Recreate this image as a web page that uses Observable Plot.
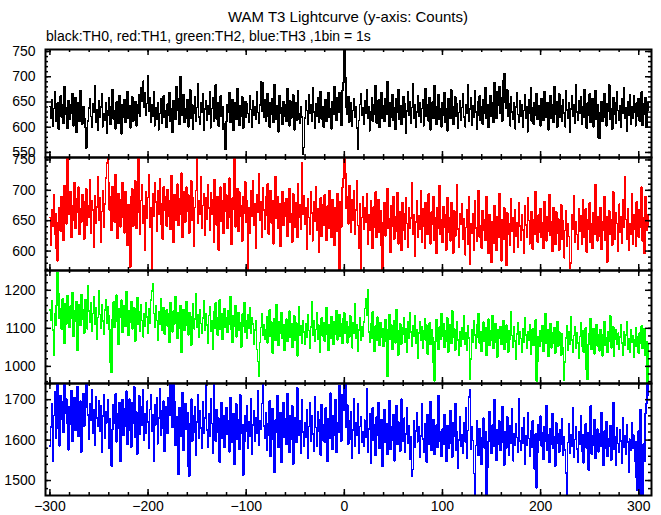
<!DOCTYPE html>
<html>
<head>
<meta charset="utf-8">
<script src="https://cdn.jsdelivr.net/npm/d3@7"></script>
<script src="https://cdn.jsdelivr.net/npm/@observablehq/plot@0.6"></script>
<style>
  body { margin: 0; background: #fff; }
  #wrap { position: relative; width: 661px; height: 515px; font-family: "Liberation Sans", Arial, sans-serif; color: #000; overflow: hidden; }
  #title { position: absolute; left: 0; width: 696px; top: 9px; text-align: center; font-size: 15px; line-height: 15px; white-space: nowrap; }
  #subtitle { position: absolute; left: 46px; top: 29px; font-size: 14px; line-height: 14px; white-space: nowrap; }
  .panel { position: absolute; left: 0; }
  .panel svg { overflow: visible; }
</style>
</head>
<body>
<div id="wrap">
  <div id="title">WAM T3 Lightcurve (y-axis: Counts)</div>
  <div id="subtitle">black:TH0, red:TH1, green:TH2, blue:TH3 ,1bin = 1s</div>
</div>
<script>
// ---- data: counts per 1 s bin, t = -300 ... 310 s ----
const th0 = [
641,618,655,602,637,670,629,611,648,596,633,662,620,645,607,681,626,639,598,652,
615,644,628,667,603,636,659,590,624,649,612,673,631,606,641,618,600,558,565,612,
638,657,621,600,646,629,683,610,635,594,652,619,640,667,601,627,613,648,589,632,
659,622,605,641,675,616,633,597,650,624,608,663,630,587,645,620,654,609,636,671,
618,642,599,629,660,612,637,651,603,626,644,665,621,679,652,691,640,668,623,647,
702,631,658,610,645,622,671,603,638,616,649,595,627,656,608,640,662,619,633,600,
646,624,669,611,637,590,652,628,615,680,634,657,606,700,641,623,665,609,637,618,
655,601,632,674,617,644,596,628,661,612,639,687,620,605,648,630,666,594,636,652,
614,643,625,670,599,637,658,611,629,684,616,648,602,635,662,621,640,596,607,556,
612,645,630,668,609,637,655,594,623,649,616,676,633,604,642,621,660,598,635,651,
619,646,627,610,663,635,600,652,624,641,615,671,629,607,644,690,632,688,620,654,
612,638,667,621,600,649,626,657,609,685,634,616,643,591,662,627,639,605,650,622,
644,611,676,629,603,652,618,637,664,595,630,648,614,673,626,607,641,620,546,560,
618,652,633,605,664,627,644,612,679,630,598,646,621,658,609,637,671,616,640,600,
629,655,612,643,668,620,636,597,651,625,681,640,614,659,630,668,645,604,672,688,
762,698,640,625,661,610,637,649,602,633,657,619,641,598,556,613,645,666,624,639,
606,652,628,674,617,640,593,631,659,612,645,626,683,608,636,654,600,629,668,618,
642,611,657,625,690,634,602,648,620,665,613,638,596,656,629,675,615,643,605,633,
661,619,646,588,632,670,624,651,607,639,686,617,645,600,630,663,622,648,610,637,
655,603,628,677,621,644,612,659,595,634,650,618,682,627,606,641,664,615,637,601,
648,624,669,610,636,593,657,630,617,674,641,605,633,660,622,646,598,629,653,614,
639,667,620,601,645,627,684,611,636,658,604,642,619,672,630,596,650,624,662,613,
641,606,655,628,678,617,645,600,632,663,622,649,610,689,635,618,670,644,681,627,
658,612,693,706,650,637,674,621,646,603,661,630,616,648,597,640,668,625,609,652,
621,645,600,633,664,618,640,591,655,627,678,612,638,606,649,624,667,615,642,630,
603,657,629,614,671,638,620,648,595,634,662,617,644,609,680,626,651,600,637,666,
619,643,611,655,628,601,672,634,617,649,590,636,663,621,645,608,684,630,614,652,
627,660,605,641,619,675,632,598,648,623,666,610,639,657,601,634,673,616,644,580,
578,629,651,612,640,667,620,603,646,631,684,615,637,596,659,625,648,608,670,633,
614,642,600,656,627,679,618,639,593,650,624,665,606,641,617,662,630,603,648,621,
657,612,638,670,604,646,625,659,600,634,648
];
const th1 = [
655,610,668,641,692,628,662,603,584,647,672,633,690,655,618,708,676,645,755,681,
660,697,623,674,650,712,638,686,664,705,627,670,648,693,659,620,681,702,642,675,
655,718,630,682,668,606,691,646,673,723,651,688,614,665,700,639,677,720,745,760,
712,668,690,634,706,681,648,726,659,621,694,672,640,685,712,655,630,698,667,610,
676,650,574,689,702,641,668,715,637,692,758,664,628,683,709,646,675,601,697,654,
688,725,640,672,567,694,658,713,681,632,699,660,719,645,677,620,706,668,690,641,
701,657,682,636,724,669,615,693,650,678,710,642,686,660,728,623,674,697,648,705,
665,692,630,679,716,651,687,608,672,700,758,646,683,661,722,637,675,694,626,688,
652,709,671,635,696,660,684,614,718,667,643,690,602,676,705,649,682,629,711,665,
692,638,674,720,655,611,687,669,756,640,680,703,632,697,658,675,616,690,662,714,
648,683,570,671,630,699,657,716,642,678,605,692,664,727,650,681,622,704,668,636,
689,659,711,628,675,700,646,683,612,669,722,654,690,637,678,608,661,697,643,680,
657,686,624,671,703,648,662,615,694,667,639,680,622,710,655,676,636,745,661,691,
644,672,603,686,655,628,698,663,617,681,649,706,635,670,598,659,688,624,676,643,
692,651,618,674,637,700,660,623,685,646,610,672,633,695,657,570,681,640,704,719,
760,728,671,690,645,708,662,631,684,650,699,627,668,715,642,604,678,569,655,689,
636,671,648,694,612,660,635,682,651,604,673,640,697,622,658,685,631,666,610,568,
647,679,625,660,702,638,653,598,674,641,689,620,657,633,696,612,665,645,601,680,
634,661,619,687,645,606,672,638,654,713,627,660,592,648,683,622,658,636,700,615,
669,641,605,680,650,627,694,633,612,664,645,690,618,655,596,671,637,708,628,652,
615,673,640,659,602,688,631,654,617,680,643,597,666,625,651,709,636,607,662,644,
677,620,653,594,639,668,612,690,578,645,629,661,602,683,638,616,656,700,623,642,
605,667,634,651,618,689,642,596,660,627,582,648,613,675,636,601,657,623,694,640,
584,652,619,671,637,576,663,628,645,610,686,633,654,598,668,625,647,606,679,641,
618,660,635,597,674,643,622,688,650,612,639,665,603,652,628,698,637,615,659,631,
670,623,646,604,681,640,617,657,633,693,626,648,600,672,638,611,664,629,653,602,
641,676,619,650,589,634,667,608,645,624,572,580,659,636,691,615,648,627,603,670,
632,658,611,684,640,622,669,598,651,636,679,614,645,604,663,628,709,641,617,656,
625,672,603,648,634,690,618,657,582,642,666,627,651,610,697,636,620,663,645,599,
677,631,656,613,684,640,722,652,619,670,601,645,628,694,612,659,636,608,681,647,
623,668,640,705,617,655,596,690,634,660,642
];
const th2 = [
1148,1121,1172,1095,1030,1138,1109,1160,1247,1190,1126,1152,1098,1177,1133,1061,1164,1112,1185,1140,
1103,1158,1127,1194,1080,1146,1118,1171,1042,1135,1162,1107,1189,1124,1150,1088,1176,1131,1099,1213,
1145,1117,1168,1092,1139,1182,1110,1154,1071,1128,1199,1136,1101,1163,1120,1084,1148,1175,1113,1157,
1132,1096,1009,984,1125,1169,1102,1143,1187,1119,1058,1151,1129,1174,1090,1137,1160,1105,1196,1124,
1082,1147,1116,1170,1099,1135,1154,1067,1128,1181,1111,1144,1093,1162,1121,1078,1139,1105,1166,1130,
1087,1152,1114,1175,1198,1218,1139,1103,1160,1121,1069,1143,1110,1177,1094,1132,1155,1085,1124,1148,
1106,1137,1063,1168,1119,1091,1145,1112,1184,1128,1074,1140,1101,1159,1036,1122,1149,1095,1133,1170,
1108,1083,1142,1117,1056,1131,1164,1099,1125,1191,1104,1136,1077,1150,1113,1088,1127,1172,1096,1138,
1109,1060,1134,1157,1092,1120,1045,1143,1101,1166,1115,1082,1129,1174,1097,1139,1071,1118,1152,1103,
1127,1089,1146,1112,1184,1098,1063,1132,1105,1160,1078,1123,1141,1094,1115,1051,1137,1106,1168,1090,
1119,1074,1135,1100,1153,1086,1128,1112,1058,1095,1121,1044,1013,973,1063,1102,1139,1081,1110,1071,
1095,1130,1062,1104,1148,1079,1116,1035,1092,1126,1068,1163,1097,1055,1118,1086,1141,1073,1109,1043,
1088,1124,1066,1101,1145,1077,1112,1050,1093,1132,1069,1115,1028,1098,1156,1082,1107,1061,1120,1090,
1058,1111,1076,1136,1094,1047,1104,1169,1083,1119,1065,1097,1142,1072,1108,1036,1091,1127,1080,1114,
1067,1099,1154,1085,1043,1110,1074,1131,1092,1057,1117,1084,1146,1070,1102,1136,1079,1113,1061,1125,
1140,1088,1118,1062,1105,1076,1132,1097,1049,1114,1086,1164,1073,1109,1041,1095,1128,1068,1103,1080,
1117,1152,1178,1134,1201,1090,1063,1112,1075,1143,1084,1039,1106,1069,1129,1092,1056,1115,1078,1100,
1052,1088,1123,1066,975,1097,1135,1071,1108,1044,1083,1119,1062,1150,1094,1030,1077,1111,1058,1102,
1085,1127,1064,1099,1037,1116,1073,1141,1090,1054,1106,1079,1132,1060,1095,1022,1087,1118,1069,1104,
1048,1093,1125,1070,1108,1033,1081,1114,1057,1097,1075,1010,962,1066,1122,1089,1045,1103,1072,1138,
1080,1113,1051,1094,1065,1127,1038,1086,1109,1060,1146,1077,1099,1042,1083,1118,1069,1030,1092,1054,
1101,1071,1132,1058,1087,1043,1107,1074,966,1019,1095,1063,1121,1082,1047,1110,1076,1139,1061,1090,
1039,1084,1116,1066,1101,1029,1078,1124,1055,1093,1070,1134,1048,1087,1112,1063,1025,1096,1074,1105,
1058,1089,1120,1044,1077,1108,1062,1037,1094,1071,1143,1081,1050,1103,1066,1018,1085,1115,1059,1092,
1073,1036,1100,1064,1127,1082,1047,1091,1068,1110,1031,1075,1098,1055,1086,1122,962,1013,1079,1052,
1094,1065,1107,1040,1083,1139,1060,1096,1027,1072,1113,1049,1088,1061,1102,1035,1077,1118,1054,1090,
1067,1029,1085,1050,964,1011,1074,1106,1043,1092,1058,1131,1069,1036,1081,1103,1047,1088,1062,1021,
1079,1115,1052,1093,1038,1070,1101,990,966,1057,1086,1125,1045,1076,1099,1033,1068,1110,1054,1082,
1041,1097,1063,1028,1084,1118,1056,1075,1036,1091,1066,1132,1049,1080,1104,1026,1071,1095,1059,1087,
1044,1078,1109,1061,1030,1090,1055,1083,1117,1046,1073,1038,1096,1064,1081,1024,1069,1102,1052,1077,
1035,1088,1060,1106,1047,1071,1100,1029,1065,958,1058
];
const th3 = [
1585,1632,1690,1548,1661,1720,1604,1675,1743,1628,1586,1710,1652,1695,1619,1738,1667,1701,1641,1576,
1683,1640,1722,1598,1669,1705,1625,1689,1732,1610,1658,1696,1571,1648,1715,1634,1680,1744,1737,1662,
1603,1690,1649,1725,1617,1676,1588,1708,1655,1634,1697,1622,1684,1569,1659,1712,1604,1670,1643,1699,
1581,1652,1618,1536,1627,1688,1641,1714,1596,1665,1630,1693,1547,1657,1700,1612,1678,1635,1721,1589,
1660,1701,1624,1583,1692,1642,1731,1607,1669,1566,1651,1710,1615,1682,1637,1724,1599,1664,1618,1696,
1645,1580,1676,1713,1623,1662,1548,1687,1638,1704,1591,1654,1728,1611,1673,1629,1696,1572,1649,1683,
1616,1705,1662,1744,1739,1631,1741,1694,1588,1657,1622,1516,1680,1609,1646,1718,1575,1652,1690,1627,
1668,1534,1511,1641,1701,1597,1659,1620,1683,1563,1645,1712,1604,1672,1630,1579,1695,1617,1654,1736,
1625,1583,1666,1610,1702,1641,1568,1741,1634,1598,1676,1619,1654,1546,1637,1693,1605,1660,1582,1628,
1681,1614,1647,1571,1705,1632,1594,1665,1540,1624,1689,1603,1651,1577,1712,1618,1639,1514,1596,1660,
1623,1685,1580,1646,1609,1701,1566,1638,1672,1597,1655,1616,1722,1588,1648,1627,1690,1739,1635,1604,
1668,1574,1641,1613,1697,1559,1630,1678,1601,1520,1649,1619,1710,1583,1636,1667,1545,1624,1693,1607,
1652,1589,1715,1628,1570,1661,1603,1684,1541,1637,1656,1594,1730,1677,1612,1648,1567,1699,1620,1585,
1643,1608,1675,1556,1634,1692,1597,1660,1615,1572,1707,1631,1586,1669,1622,1650,1563,1688,1601,1638,
1595,1679,1626,1548,1653,1604,1716,1637,1578,1661,1613,1699,1570,1642,1620,1735,1658,1598,1712,1673,
1744,1739,1632,1687,1590,1647,1603,1669,1555,1625,1702,1584,1644,1611,1690,1568,1634,1657,1595,1620,
1584,1649,1607,1726,1571,1628,1664,1542,1615,1680,1599,1638,1562,1657,1612,1693,1580,1624,1651,1535,
1618,1675,1594,1640,1565,1609,1697,1577,1633,1601,1662,1549,1620,1686,1589,1645,1613,1573,1701,1626,
1597,1654,1570,1615,1681,1592,1636,1553,1608,1511,1527,1647,1583,1622,1668,1596,1634,1558,1610,1689,
1603,1571,1640,1617,1545,1663,1590,1628,1695,1575,1612,1651,1564,1606,1637,1582,1709,1598,1621,1560,
1627,1589,1662,1604,1548,1636,1580,1615,1673,1593,1558,1644,1610,1691,1576,1620,1530,1601,1658,1586,
1613,1567,1642,1596,1681,1555,1624,1707,1725,1578,1633,1599,1517,1465,1587,1648,1609,1562,1629,1592,
1540,1606,1654,1581,1620,1462,1532,1597,1670,1614,1568,1637,1585,1699,1603,1551,1626,1590,1647,1574,
1610,1683,1595,1538,1621,1580,1657,1603,1563,1635,1592,1678,1549,1615,1587,1641,1606,1569,1702,1598,
1575,1630,1592,1656,1541,1611,1588,1668,1604,1559,1623,1583,1647,1596,1528,1615,1482,1570,1638,1601,
1659,1586,1619,1552,1633,1597,1685,1574,1612,1545,1628,1590,1666,1580,1607,1536,1642,1593,1616,1571,
1625,1589,1652,1563,1609,1576,1518,1462,1594,1641,1567,1614,1584,1679,1557,1601,1632,1578,1546,1620,
1590,1661,1572,1613,1544,1598,1640,1581,1619,1526,1605,1684,1566,1611,1587,1650,1555,1599,1627,1571,
1615,1584,1667,1594,1537,1622,1579,1646,1560,1603,1586,1636,1551,1617,1693,1577,1608,1539,1630,1591,
1569,1625,1598,1542,1655,1583,1610,1566,1638,1595,1520,1602,1574,1643,1581,1612,1548,1508,1597,1475,
1623,1464,1675,1501,1462,1590,1548,1666,1690,1744,1712
];
const startTime = -300;              // first bin (s), 1 bin = 1 s
const seriesColors = ["#000000", "#ff0000", "#00ff00", "#0000ff"];
const xTickLabels = [-300, -200, -100, 0, 100, 200, 300];
const yTickLabels = [
  [550, 600, 650, 700, 750],
  [600, 650, 700, 750],
  [1000, 1100, 1200],
  [1500, 1600, 1700]
];
const yMinorSteps = [10, 10, 20, 20];
const yDomains = [[540, 754], [568, 754], [955, 1252], [1463, 1740]];
const xDomain = [-304.5, 313];

// ---- layout ----
const W = 661, ML = 45, MR = 10, innerW = W - ML - MR;
const frames = [[49, 157], [157, 270], [270, 383], [383, 495]];
const series = [th0, th1, th2, th3];
const xMinor = d3.range(-300, 313, 20);
const fmt = d => d < 0 ? "\u2212" + Math.abs(d) : String(d);

const wrap = document.getElementById("wrap");
series.forEach((vals, i) => {
  const last = i === 3;
  const [top, bottom] = frames[i];
  const H = bottom - top;
  const mt = 12, mb = last ? 30 : 12;
  const rows = vals.map((v, k) => ({t: startTime + k, v}));
  const [d0, d1] = yDomains[i];
  const step = yMinorSteps[i];
  const yMinor = d3.range(Math.ceil(d0 / step) * step, d1 + 0.001, step);
  const yMajor = yTickLabels[i];
  const tk = {stroke: "#000", strokeWidth: 1.5};
  const marks = [
    Plot.line(rows, {x: "t", y: "v", curve: "step", stroke: seriesColors[i], strokeWidth: 1.6, clip: true, shapeRendering: "crispEdges"}),
    Plot.tickY(yMinor, {y: d => d, insetRight: innerW - 3, ...tk}),
    Plot.tickY(yMinor, {y: d => d, insetLeft: innerW - 3, ...tk}),
    Plot.tickY(yMajor, {y: d => d, insetRight: innerW - 6, ...tk}),
    Plot.tickY(yMajor, {y: d => d, insetLeft: innerW - 6, ...tk}),
    Plot.tickX(xMinor, {x: d => d, insetBottom: H - 3, ...tk}),
    Plot.tickX(xMinor, {x: d => d, insetTop: H - 3, ...tk}),
    Plot.tickX(xTickLabels, {x: d => d, insetBottom: H - 6, ...tk}),
    Plot.tickX(xTickLabels, {x: d => d, insetTop: H - 6, ...tk}),
    Plot.frame({stroke: "#000", strokeWidth: 2}),
    Plot.axisY({ticks: yMajor, tickSize: 0, tickPadding: 10, fontSize: 14, label: null, tickFormat: d => String(d)})
  ];
  if (last) {
    marks.push(Plot.axisX({ticks: xTickLabels, tickSize: 0, tickPadding: 6, fontSize: 14, label: null, tickFormat: fmt}));
  }
  const svg = Plot.plot({
    width: W,
    height: H + mt + mb,
    marginLeft: ML, marginRight: MR, marginTop: mt, marginBottom: mb,
    x: last ? {domain: xDomain} : {domain: xDomain, axis: null},
    y: {domain: yDomains[i]},
    style: {background: "transparent", overflow: "visible", fontFamily: "Liberation Sans, Arial, sans-serif", fontSize: "14px", color: "#000"},
    marks
  });
  const div = document.createElement("div");
  div.className = "panel";
  div.style.top = (top - mt) + "px";
  div.appendChild(svg);
  wrap.appendChild(div);
});
</script>
</body>
</html>
